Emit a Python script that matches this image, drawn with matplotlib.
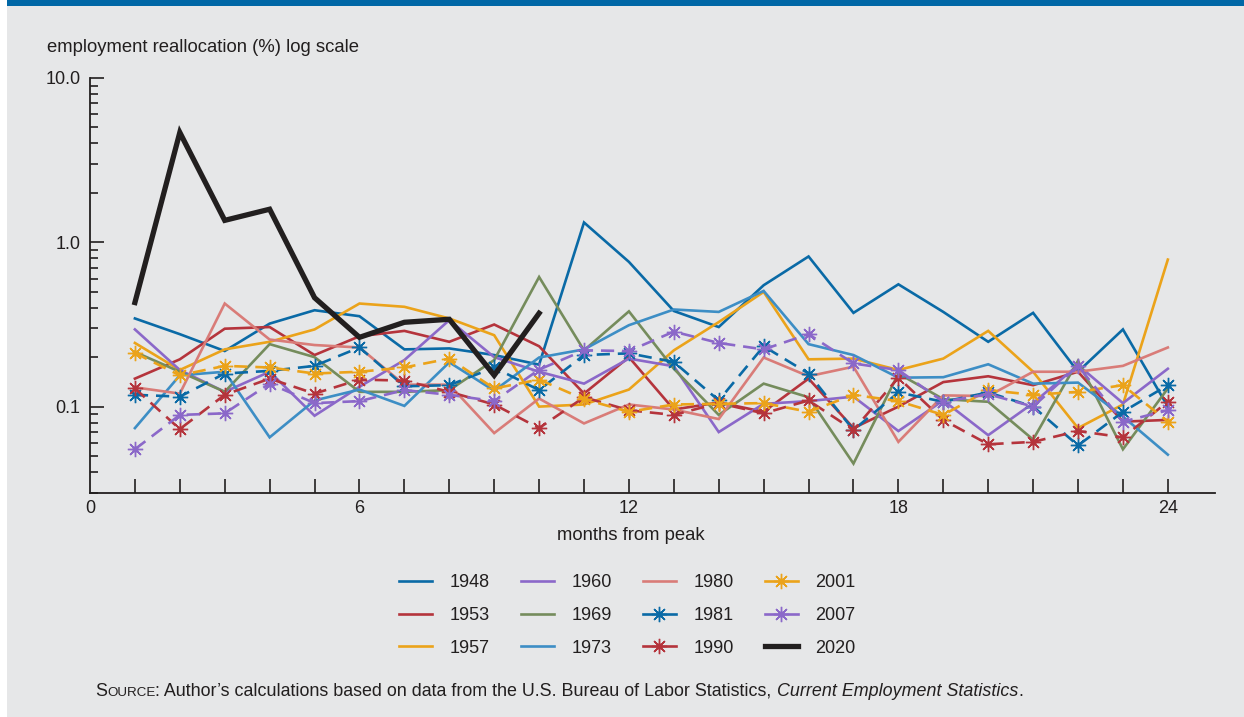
import matplotlib
matplotlib.use("Agg")
import matplotlib.pyplot as plt
from matplotlib.patches import Rectangle
from matplotlib.legend_handler import HandlerTuple

plt.rcParams['font.family'] = ['Liberation Sans', 'DejaVu Sans']

months = list(range(1, 25))
months_2020 = list(range(1, 11))

y1948 = [0.344, 0.276, 0.218, 0.320, 0.386, 0.355, 0.223, 0.226, 0.206, 0.180, 1.32, 0.76,
         0.382, 0.305, 0.548, 0.820, 0.372, 0.555, 0.377, 0.248, 0.372, 0.163, 0.295, 0.100]
y1953 = [0.148, 0.194, 0.298, 0.305, 0.206, 0.268, 0.289, 0.248, 0.316, 0.233, 0.120, 0.200,
         0.096, 0.106, 0.093, 0.148, 0.074, 0.100, 0.141, 0.153, 0.135, 0.163, 0.081, 0.083]
y1957 = [0.244, 0.167, 0.223, 0.248, 0.295, 0.424, 0.405, 0.344, 0.272, 0.100, 0.103, 0.127,
         0.220, 0.327, 0.499, 0.194, 0.196, 0.167, 0.196, 0.289, 0.163, 0.074, 0.103, 0.785]
y1960 = [0.295, 0.167, 0.123, 0.163, 0.088, 0.132, 0.192, 0.336, 0.200, 0.163, 0.138, 0.196,
         0.176, 0.070, 0.104, 0.108, 0.115, 0.071, 0.109, 0.067, 0.105, 0.179, 0.105, 0.170]
y1969 = [0.215, 0.163, 0.123, 0.240, 0.200, 0.123, 0.123, 0.126, 0.192, 0.615, 0.220, 0.380,
         0.170, 0.089, 0.138, 0.114, 0.045, 0.159, 0.111, 0.107, 0.063, 0.190, 0.055, 0.129]
y1973 = [0.074, 0.155, 0.163, 0.065, 0.109, 0.127, 0.101, 0.186, 0.125, 0.199, 0.223, 0.313,
         0.390, 0.377, 0.506, 0.240, 0.206, 0.150, 0.151, 0.181, 0.138, 0.140, 0.087, 0.051]
y1980 = [0.131, 0.120, 0.424, 0.256, 0.237, 0.229, 0.136, 0.136, 0.069, 0.112, 0.079, 0.103,
         0.096, 0.084, 0.199, 0.153, 0.175, 0.061, 0.117, 0.116, 0.163, 0.163, 0.177, 0.229]
y1981 = [0.118, 0.115, 0.159, 0.165, 0.177, 0.229, 0.133, 0.135, 0.173, 0.126, 0.206, 0.211,
         0.187, 0.109, 0.233, 0.159, 0.072, 0.122, 0.107, 0.122, 0.100, 0.058, 0.093, 0.135]
y1990 = [0.129, 0.073, 0.118, 0.148, 0.120, 0.146, 0.144, 0.123, 0.103, 0.074, 0.114, 0.095,
         0.089, 0.105, 0.091, 0.109, 0.072, 0.150, 0.083, 0.059, 0.061, 0.071, 0.065, 0.107]
y2001 = [0.212, 0.155, 0.177, 0.173, 0.159, 0.163, 0.173, 0.196, 0.129, 0.146, 0.111, 0.093,
         0.103, 0.104, 0.105, 0.093, 0.118, 0.108, 0.089, 0.126, 0.118, 0.123, 0.135, 0.081]
y2007 = [0.055, 0.089, 0.091, 0.138, 0.105, 0.108, 0.126, 0.118, 0.108, 0.168, 0.220, 0.218,
         0.286, 0.244, 0.223, 0.276, 0.183, 0.167, 0.107, 0.119, 0.100, 0.177, 0.081, 0.095]
y2020 = [0.43, 4.66, 1.36, 1.59, 0.46, 0.264, 0.326, 0.34, 0.155, 0.37]

DBLUE = '#0a6aa6'
DRED = '#b5343c'
GOLD = '#eba31a'
PURPLE = '#8b68c9'
OLIVE = '#758c5c'
LBLUE = '#3d8ec5'
SALMON = '#d97c78'
BLACK = '#221f1f'
BG = '#e6e7e8'

W, H = 1244, 717
fig = plt.figure(figsize=(W / 100, H / 100), dpi=100, facecolor='white')
fig.patches.append(Rectangle((7 / W, 0), 1 - 7 / W, 1, transform=fig.transFigure,
                             facecolor=BG, edgecolor='none', zorder=-10))
fig.patches.append(Rectangle((7 / W, 1 - 6 / H), 1 - 7 / W, 6 / H, transform=fig.transFigure,
                             facecolor='#0067a6', edgecolor='none', zorder=-9))

ax = fig.add_axes([90 / W, 1 - 493 / H, (1215 - 90) / W, (493 - 78) / H])
ax.set_facecolor('none')

solid = [('1948', y1948, DBLUE), ('1953', y1953, DRED), ('1957', y1957, GOLD),
         ('1960', y1960, PURPLE), ('1969', y1969, OLIVE), ('1973', y1973, LBLUE),
         ('1980', y1980, SALMON)]
marked = [('1981', y1981, DBLUE), ('1990', y1990, DRED), ('2001', y2001, GOLD),
          ('2007', y2007, PURPLE)]

handles = []
labels = []
for lab, ys, c in solid:
    l, = ax.plot(months, ys, color=c, lw=1.9, solid_joinstyle='miter')
    handles.append(l)
    labels.append(lab)
for lab, ys, c in marked:
    l, = ax.plot(months, ys, color=c, lw=1.9, ls=(0, (5, 3)), marker=(8, 2, 0),
                 markersize=11, markeredgewidth=1.0, markeredgecolor=c)
    d, = ax.plot(months, ys, ls='none', marker='o', markersize=3.5, color=c)
    hl, = ax.plot([], [], color=c, lw=1.9, marker=(8, 2, 0), markersize=11,
                  markeredgewidth=1.0, markeredgecolor=c)
    handles.append((hl, d))
    labels.append(lab)
l, = ax.plot(months_2020, y2020, color=BLACK, lw=3.8, solid_joinstyle='miter')
handles.append(l)
labels.append('2020')

ax.set_yscale('log')
ax.set_ylim(0.0298, 10)
ax.set_xlim(0, 25.05)

FS = 13
ax.set_xticks(range(1, 25))
ax.set_xticklabels([str(m) if m % 6 == 0 else '' for m in range(1, 25)])
ax.set_xticks([0], minor=True)
ax.set_xticklabels(['0'], minor=True)
ax.tick_params(axis='x', which='both', direction='in', length=10, width=1.2, color=BLACK,
               labelsize=FS, pad=5, labelcolor=BLACK)
ax.tick_params(axis='x', which='minor', length=0)

ax.set_yticks([0.1, 1, 10])
ax.set_yticklabels(['0.1', '1.0', '10.0'])
ax.tick_params(axis='y', which='major', direction='in', length=10, width=1.2, color=BLACK,
               labelsize=FS, pad=7, labelcolor=BLACK)
ax.tick_params(axis='y', which='minor', direction='in', length=6, width=1.2, color=BLACK,
               labelleft=False)

for s in ['top', 'right']:
    ax.spines[s].set_visible(False)
for s in ['left', 'bottom']:
    ax.spines[s].set_color(BLACK)
    ax.spines[s].set_linewidth(1.3)

fig.text(47 / W, 1 - 47 / H, 'employment reallocation (%) log scale', fontsize=13.3,
         color=BLACK, va='center', ha='left')
fig.text(631 / W, 1 - 535 / H, 'months from peak', fontsize=13.3, color=BLACK,
         va='center', ha='center')

leg = fig.legend(handles, labels, ncol=4, loc='upper left',
                 bbox_to_anchor=(399 / W, 1 - 574 / H), frameon=False, fontsize=FS,
                 handlelength=1.85, handletextpad=0.95, columnspacing=1.72,
                 labelspacing=0.88, borderpad=0, borderaxespad=0,
                 handler_map={tuple: HandlerTuple(ndivide=1, pad=0)})
for t in leg.get_texts():
    t.set_color(BLACK)

# Source line with small caps
fig.canvas.draw()
r = fig.canvas.get_renderer()
ys = 1 - 696 / H
x = 95 / W
SFS = 12.9
parts = [('S', SFS, 'normal'), ('OURCE', SFS * 0.75, 'normal'),
         (': Author\u2019s calculations based on data from the U.S. Bureau of Labor Statistics, ', SFS, 'normal'),
         ('Current Employment Statistics', SFS, 'italic'), ('.', SFS, 'normal')]
for txt, fs, st in parts:
    t = fig.text(x, ys, txt, fontsize=fs, style=st, color=BLACK, va='baseline', ha='left')
    bb = t.get_window_extent(renderer=r)
    x = x + bb.width / W

fig.savefig('out.png', dpi=100, facecolor=fig.get_facecolor())
